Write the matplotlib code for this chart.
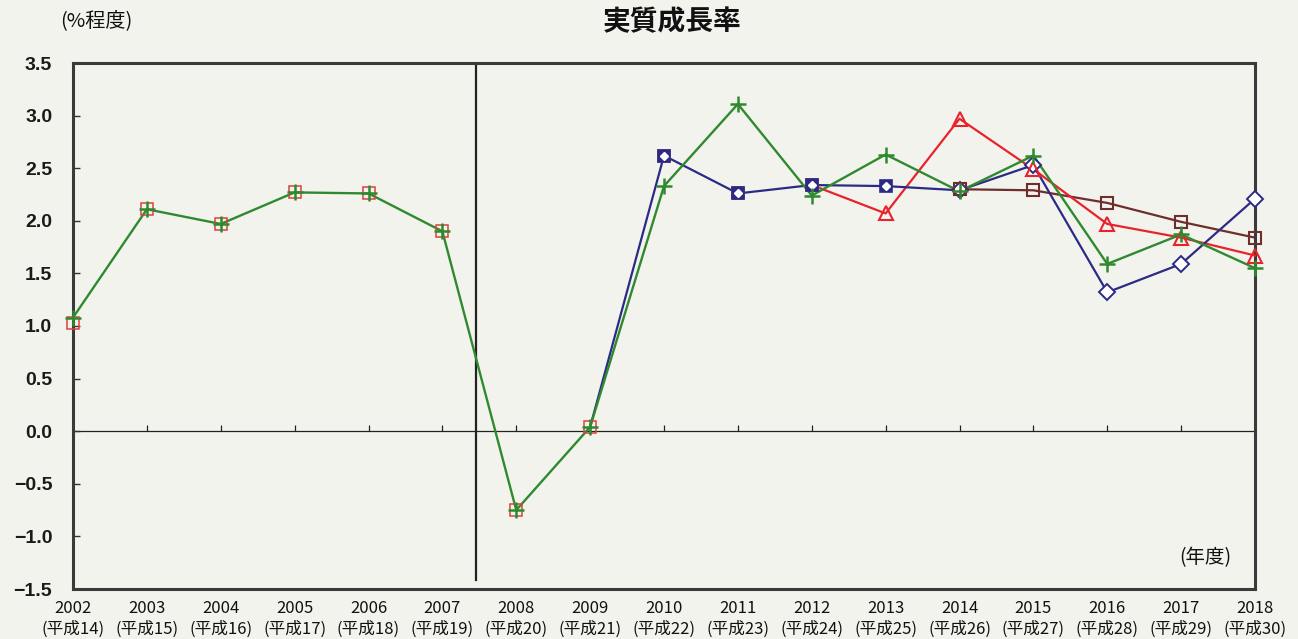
import numpy as np
import matplotlib
matplotlib.use("Agg")
import matplotlib.pyplot as plt

plt.rcParams['font.family'] = ['Noto Sans CJK JP', 'DejaVu Sans']

# ---- data ----
years = np.arange(2002, 2019)
heisei = [f"(平成{y - 1988})" for y in years]
yticks = [3.5, 3.0, 2.5, 2.0, 1.5, 1.0, 0.5, 0.0, -0.5, -1.0, -1.5]

green = [1.08, 2.11, 1.97, 2.27, 2.26, 1.90, -0.75, 0.04, 2.33, 3.11, 2.24, 2.63, 2.28, 2.62, 1.59, 1.87, 1.55]
navy  = [1.05, 2.11, 1.97, 2.27, 2.26, 1.90, -0.75, 0.04, 2.62, 2.26, 2.34, 2.33, 2.29, 2.53, 1.32, 1.59, 2.21]
red   = [1.03, 2.11, 1.97, 2.27, 2.26, 1.90, -0.75, 0.04, 2.62, 2.26, 2.34, 2.07, 2.97, 2.49, 1.97, 1.84, 1.67]
brown = [1.03, 2.11, 1.97, 2.27, 2.26, 1.90, -0.75, 0.04, 2.62, 2.26, 2.34, 2.33, 2.30, 2.29, 2.17, 1.99, 1.84]
divider_year = 2007.45

C_GREEN = '#2f8a2f'
C_NAVY = '#2b2b86'
C_RED = '#e8232b'
C_BROWN = '#6e2e2c'
BG = '#f3f3ee'

fig = plt.figure(figsize=(12.98, 6.39), dpi=100, facecolor=BG)
ax = fig.add_axes([73/1298, 1 - 589/639, (1255 - 73)/1298, (589 - 63)/639])
ax.set_facecolor(BG)

ax.set_xlim(years[0], years[-1])
ax.set_ylim(-1.5, 3.5)

g = np.array(green); n = np.array(navy); r = np.array(red); b = np.array(brown)

# lines
ax.plot(years[12:], b[12:], color=C_BROWN, lw=1.6, zorder=2, clip_on=False)
ax.plot(years[10:], r[10:], color=C_RED, lw=1.6, zorder=3, clip_on=False)
ax.plot(years[7:], n[7:], color=C_NAVY, lw=1.6, zorder=4, clip_on=False)
ax.plot(years, g, color=C_GREEN, lw=1.7, zorder=5, clip_on=False)

# markers
ax.plot(years[:11], r[:11], ls='none', marker='s', ms=8.5, mfc='none', mec='#d8443c', mew=1.1, zorder=6, clip_on=False)
ax.plot(years[8:12], n[8:12], ls='none', marker='s', ms=8, mfc=C_NAVY, mec=C_NAVY, mew=1.2, zorder=7, clip_on=False)
ax.plot(years[8:12], n[8:12], ls='none', marker='D', ms=4.5, mfc='white', mec='white', zorder=8, clip_on=False)
ax.plot(years[12:], n[12:], ls='none', marker='D', ms=8, mfc='white', mec=C_NAVY, mew=1.4, zorder=7, clip_on=False)
ax.plot(years[11:], r[11:], ls='none', marker='^', ms=10, mfc='none', mec=C_RED, mew=1.5, zorder=7, clip_on=False)
ax.plot(years[12:], b[12:], ls='none', marker='s', ms=9, mfc='none', mec=C_BROWN, mew=1.5, zorder=7, clip_on=False)
ax.plot(years, g, ls='none', marker='+', ms=12, mec=C_GREEN, mew=1.8, zorder=9, clip_on=False)

# zero line with small ticks
ax.axhline(0, color='#222222', lw=0.9, zorder=1)
ax.plot(years, np.zeros_like(g), ls='none', marker=2, ms=4, color='#222222', mew=0.9, zorder=1)

# divider
ax.plot([divider_year, divider_year], [-1.41, 3.5], color='#222222', lw=1.6, zorder=1)

# axes styling
for s in ax.spines.values():
    s.set_linewidth(2.2)
    s.set_color('#3a3a3a')
ax.set_yticks(yticks)
ax.set_yticklabels([f"{v:.1f}".replace('-', '−') for v in yticks], fontsize=14,
                   family=['Liberation Sans', 'DejaVu Sans'], fontweight='bold', color='#1a1a1a')
ax.tick_params(axis='y', direction='in', length=5, width=1, pad=15, color='#333333')
ax.set_xticks(years)
ax.set_xticklabels([f"{y}\n{h}" for y, h in zip(years, heisei)], fontsize=12,
                   linespacing=1.25, color='#111111')
ax.tick_params(axis='x', length=0, pad=8)

fig.text(672/1298, 1 - 22/639, '実質成長率', ha='center', va='center', fontsize=20,
         fontweight='bold', color='#111111')
fig.text(96/1298, 1 - 21/639, '(%程度)', ha='center', va='center', fontsize=14.5,
         color='#111111')
fig.text(1205/1298, 1 - 558/639, '(年度)', ha='center', va='center', fontsize=14,
         color='#111111')

fig.savefig('out.png', dpi=100, facecolor=BG)
